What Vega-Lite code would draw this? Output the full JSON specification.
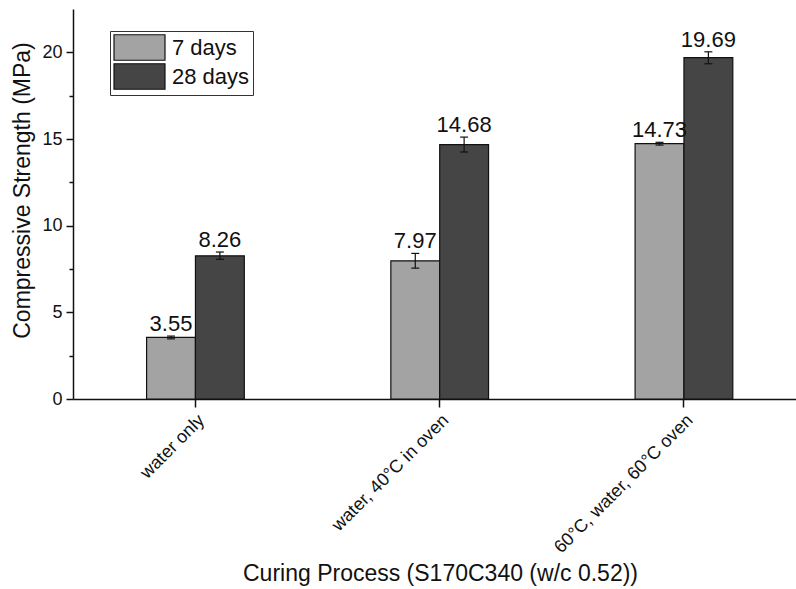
{
  "$schema": "https://vega.github.io/schema/vega-lite/v6.json",
  "width": 723,
  "height": 390,
  "autosize": "none",
  "padding": {"left": 73, "top": 9, "right": 0, "bottom": 190},
  "background": "white",
  "config": {
    "view": {"stroke": null},
    "font": "Liberation Sans",
    "axis": {"domainColor": "#111", "tickColor": "#111", "labelColor": "#111", "titleColor": "#111", "grid": false, "domainWidth": 1.5, "tickWidth": 1.5, "labelFont": "Liberation Sans", "titleFont": "Liberation Sans", "titleFontWeight": "normal"}
  },
  "data": {
    "values": [
      {"process": "water only", "age": "7 days", "value": 3.55, "lo": 3.47, "hi": 3.63},
      {"process": "water only", "age": "28 days", "value": 8.26, "lo": 8.06, "hi": 8.48},
      {"process": "water, 40°C in oven", "age": "7 days", "value": 7.97, "lo": 7.55, "hi": 8.4},
      {"process": "water, 40°C in oven", "age": "28 days", "value": 14.68, "lo": 14.25, "hi": 15.11},
      {"process": "60°C, water, 60°C oven", "age": "7 days", "value": 14.73, "lo": 14.65, "hi": 14.81},
      {"process": "60°C, water, 60°C oven", "age": "28 days", "value": 19.69, "lo": 19.34, "hi": 20.03}
    ]
  },
  "encoding": {
    "x": {
      "field": "process", "type": "nominal", "sort": null,
      "scale": {"paddingInner": 0.6, "paddingOuter": 0.28, "align": 0.538},
      "axis": {"title": "Curing Process (S170C340 (w/c 0.52))", "labelAngle": -45, "labelAlign": "right", "labelBaseline": "top", "labelFontSize": 18, "labelLimit": 400, "titleFontSize": 23, "tickSize": 8, "labelPadding": 4, "titleX": 367, "titleY": 174, "titleAnchor": "middle", "titleAlign": "center", "titleBaseline": "middle"}
    },
    "xOffset": {"field": "age", "type": "nominal", "sort": ["7 days", "28 days"]}
  },
  "layer": [
    {
      "mark": {"type": "bar", "stroke": "#111", "strokeWidth": 1.2},
      "encoding": {
        "y": {
          "field": "value", "type": "quantitative",
          "scale": {"domain": [0, 22.5], "nice": false},
          "axis": {
            "title": "Compressive Strength (MPa)",
            "titleFontSize": 23,
            "labelFontSize": 18,
            "values": [0, 2.5, 5, 7.5, 10, 12.5, 15, 17.5, 20],
            "labelExpr": "datum.value % 5 === 0 ? datum.label : ''",
            "tickSize": {"condition": {"test": "datum.value % 5 !== 0", "value": 4}, "value": 7},
            "labelPadding": 4,
            "titleX": -51,
            "titleY": 181,
            "titleAnchor": "middle",
            "titleAlign": "center",
            "titleBaseline": "middle"
          }
        },
        "fill": {
          "field": "age", "type": "nominal", "sort": ["7 days", "28 days"],
          "scale": {"range": ["#a3a3a3", "#454545"]},
          "legend": {
            "title": null,
            "orient": "none",
            "legendX": 37,
            "legendY": 22,
            "symbolType": "M-2,-1H2V1H-2Z",
            "symbolSize": 650,
            "symbolOffset": 13,
            "symbolStrokeColor": "#111",
            "symbolStrokeWidth": 1.2,
            "labelFontSize": 22,
            "labelColor": "#111",
            "labelOffset": 19,
            "rowPadding": -3.5,
            "padding": 3,
            "strokeColor": "#333"
          }
        }
      }
    },
    {
      "mark": {"type": "rule", "color": "#111", "strokeWidth": 1.2},
      "encoding": {"y": {"field": "lo", "type": "quantitative"}, "y2": {"field": "hi"}}
    },
    {
      "mark": {"type": "point", "shape": "M-1,0H1", "filled": false, "size": 64, "color": "#111", "strokeWidth": 1.2, "opacity": 1},
      "encoding": {"y": {"field": "lo", "type": "quantitative"}}
    },
    {
      "mark": {"type": "point", "shape": "M-1,0H1", "filled": false, "size": 64, "color": "#111", "strokeWidth": 1.2, "opacity": 1},
      "encoding": {"y": {"field": "hi", "type": "quantitative"}}
    },
    {
      "mark": {"type": "text", "fontSize": 22, "baseline": "alphabetic", "dy": -5, "color": "#111"},
      "encoding": {"y": {"field": "hi", "type": "quantitative"}, "text": {"field": "value", "type": "quantitative", "format": ".2f"}}
    }
  ]
}
